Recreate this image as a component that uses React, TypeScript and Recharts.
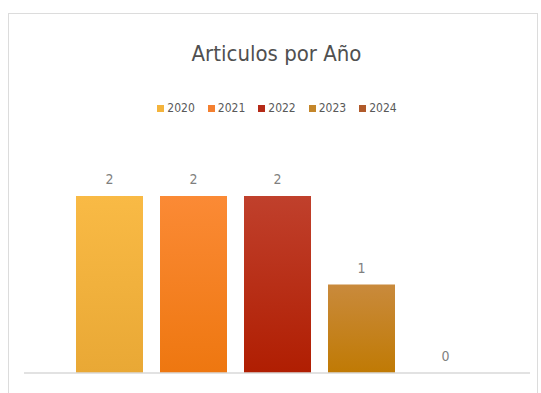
import { BarChart, Bar, XAxis, YAxis, Legend, LabelList } from "recharts";

const years = ["2020", "2021", "2022", "2023", "2024"];
const counts = [2, 2, 2, 1, 0];
const topColors = ["#f9ba45", "#fb8a35", "#c0402c", "#c98a3c", "#b5602e"];
const bottomColors = ["#e9a835", "#ee7710", "#b01e02", "#c07a04", "#a4501f"];
const legendColors = ["#f4b43c", "#f48030", "#b52a17", "#c4862a", "#b05a2a"];

const row: Record<string, string | number> = { name: "Articulos" };
years.forEach((y, i) => {
  row[y] = counts[i];
});
const data = [row];

const font = "'DejaVu Sans Condensed', 'DejaVu Sans', sans-serif";

// eslint-disable-next-line @typescript-eslint/no-explicit-any
function YearLegend({ payload }: any) {
  if (!payload) return null;
  return (
    <div
      style={{
        display: "flex",
        justifyContent: "center",
        gap: 13,
        paddingTop: 3,
        fontFamily: font,
        fontStretch: "condensed",
      }}
    >
      {/* eslint-disable-next-line @typescript-eslint/no-explicit-any */}
      {payload.map((entry: any, i: number) => (
        <div key={entry.value} style={{ display: "flex", alignItems: "center", gap: 3 }}>
          <div style={{ width: 7, height: 7, background: legendColors[i] }} />
          <span style={{ color: "#595959", fontSize: 12 }}>{entry.value}</span>
        </div>
      ))}
    </div>
  );
}

// eslint-disable-next-line @typescript-eslint/no-explicit-any
function ValueLabel({ x, y, width, value }: any) {
  return (
    <text
      x={Number(x) + Number(width) / 2}
      y={Number(y) - 12}
      textAnchor="middle"
      fill="#7f7f7f"
      fontSize={14}
      fontFamily={font}
      style={{ fontStretch: "condensed" }}
    >
      {String(value)}
    </text>
  );
}

// zero-valued bars get dropped otherwise, and their "0" label with them
const tinyForZero = (v: number) => (v === 0 ? 0.01 : 0);

export default function App() {
  return (
    <div style={{ position: "relative", width: 541, height: 393, overflow: "hidden", background: "#fff" }}>
      <style>{`body{margin:0}`}</style>
      <div
        style={{
          position: "absolute",
          left: 8,
          top: 13,
          width: 528,
          height: 420,
          border: "1px solid #dcdcdc",
        }}
      />
      <div
        style={{
          position: "absolute",
          top: 41,
          left: 0,
          width: 553,
          textAlign: "center",
          fontFamily: font,
          fontStretch: "condensed",
          fontSize: 22,
          color: "#505050",
        }}
      >
        Articulos por Año
      </div>
      <div style={{ position: "absolute", left: 0, top: 0 }}>
        <BarChart
          width={541}
          height={393}
          data={data}
          margin={{ top: 98, right: 11, left: 24, bottom: 19 }}
          barGap={17}
          barSize={67}
        >
          <defs>
            {years.map((y, i) => (
              <linearGradient key={y} id={`grad${y}`} x1="0" y1="0" x2="0" y2="1">
                <stop offset="0%" stopColor={topColors[i]} />
                <stop offset="100%" stopColor={bottomColors[i]} />
              </linearGradient>
            ))}
          </defs>
          <XAxis
            dataKey="name"
            tick={false}
            tickLine={false}
            height={1}
            axisLine={{ stroke: "#d9d9d9", strokeWidth: 1.5 }}
          />
          <YAxis hide domain={[0, 2]} />
          <Legend verticalAlign="top" height={98} content={<YearLegend />} />
          {years.map((y) => (
            <Bar
              key={y}
              dataKey={y}
              name={y}
              fill={`url(#grad${y})`}
              minPointSize={tinyForZero}
              isAnimationActive={false}
            >
              <LabelList dataKey={y} content={<ValueLabel />} />
            </Bar>
          ))}
        </BarChart>
      </div>
    </div>
  );
}
